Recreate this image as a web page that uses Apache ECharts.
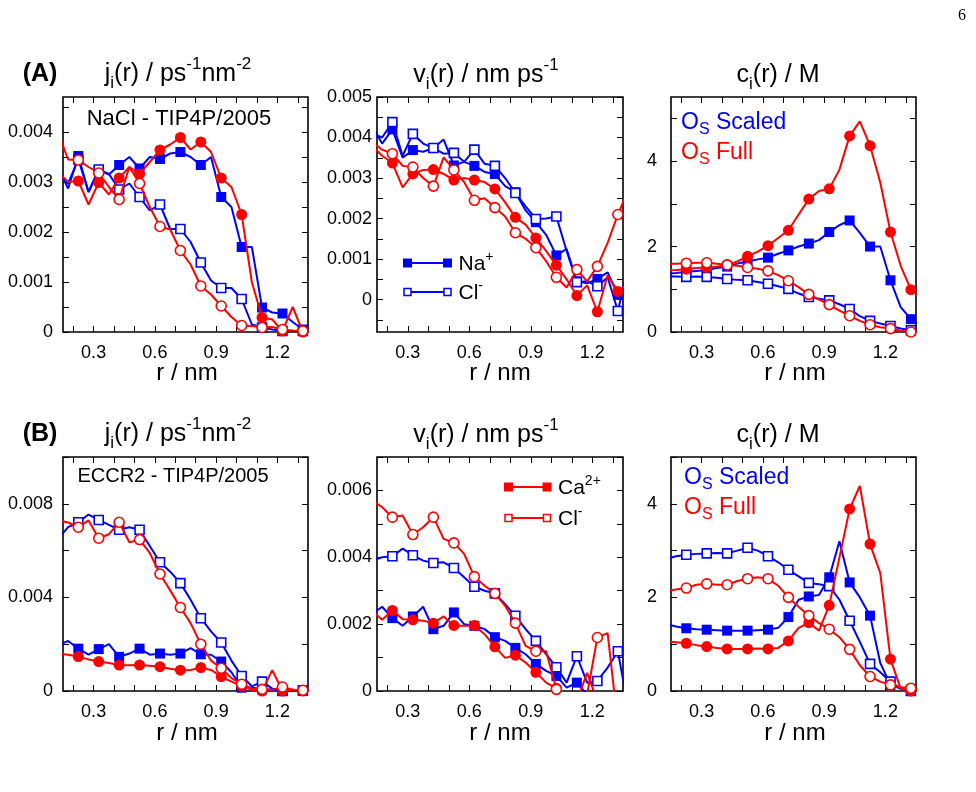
<!DOCTYPE html>
<html><head><meta charset="utf-8">
<script src="https://cdn.jsdelivr.net/npm/echarts@6/dist/echarts.min.js"></script>
<style>html,body{margin:0;padding:0;background:#fff}#c{width:976px;height:792px}</style>
</head><body><div id="c"></div>
<script>
// ---- data: r grid (nm); markers every other point starting at 0.225 ----
const r = [0.125,0.175,0.225,0.275,0.325,0.375,0.425,0.475,0.525,0.575,0.625,0.675,0.725,0.775,0.825,0.875,0.925,0.975,1.025,1.075,1.125,1.175,1.225,1.275,1.325,1.375];
const xTicks = [0.2,0.3,0.4,0.5,0.6,0.7,0.8,0.9,1.0,1.1,1.2,1.3];
const xLabels = [0.3,0.6,0.9,1.2];

// (A) NaCl  j_i(r), units 1e-3 ps^-1 nm^-2
const jA_NaScaled = [3.3,2.87,3.52,2.8,3.24,3.15,3.34,3.5,3.27,3.5,3.46,3.57,3.60,3.5,3.34,3.5,2.70,2.5,1.70,1.7,0.49,0.39,0.37,0.2,0.05,0.0];
const jA_ClScaled = [3.2,2.97,3.45,2.8,3.25,3.16,2.85,2.97,2.70,2.43,2.55,2.06,2.06,1.8,1.39,1.03,0.88,0.88,0.66,0.15,0.09,0.05,0.02,0.02,0.02,0.0];
const jA_NaFull   = [3.2,3.0,3.02,2.55,2.99,2.75,3.08,3.3,3.16,3.4,3.64,3.75,3.89,3.65,3.80,3.6,3.08,2.9,2.35,1.0,0.29,0.25,0.02,0.5,0.0,0.0];
const jA_ClFull   = [4.0,3.45,3.44,3.3,3.18,2.9,2.65,3.3,2.97,2.5,2.11,2.05,1.63,1.35,0.92,0.75,0.52,0.3,0.13,0.12,0.09,0.1,0.05,0.03,0.02,0.0];
// (A) v_i(r), units 1e-3 nm/ps
const vA_NaScaled = [4.3,3.85,4.2,3.5,3.69,3.65,3.74,3.95,3.31,3.4,3.3,3.15,3.1,2.8,2.65,2.2,1.91,1.6,1.09,1.25,0.45,0.4,0.51,0.67,0.12,0.5];
const vA_ClScaled = [4.1,4.0,4.38,3.55,4.09,3.85,3.74,3.6,3.62,3.4,3.7,3.35,3.3,3.0,2.63,2.3,1.99,2.0,2.05,1.2,0.43,0.45,0.33,0.55,-0.28,0.8];
const vA_NaFull   = [3.8,3.55,3.37,2.77,3.1,3.2,3.21,3.1,2.95,3.0,2.95,2.9,2.73,2.4,2.03,1.85,1.52,1.2,0.85,0.5,0.1,0.35,-0.3,0.6,0.2,0.4];
const vA_ClFull   = [3.9,3.7,3.6,3.3,3.27,3.0,2.8,3.51,3.2,2.9,2.45,2.5,2.27,2.05,1.65,1.5,1.28,0.95,0.55,0.3,0.74,0.45,0.82,1.4,2.1,2.7];
// (A) c_i(r), M
const cA_NaScaled = [1.36,1.38,1.41,1.43,1.45,1.5,1.53,1.6,1.65,1.7,1.74,1.83,1.91,2.0,2.07,2.15,2.34,2.5,2.61,2.32,2.0,2.0,1.21,0.58,0.3,0.15];
const cA_ClScaled = [1.3,1.3,1.29,1.3,1.29,1.27,1.24,1.22,1.21,1.17,1.13,1.07,1.01,0.9,0.82,0.78,0.74,0.65,0.54,0.37,0.26,0.2,0.14,0.08,0.04,0.02];
const cA_NaFull   = [1.44,1.45,1.47,1.5,1.51,1.53,1.57,1.65,1.77,1.88,2.02,2.2,2.38,2.75,3.11,3.3,3.35,3.8,4.59,4.93,4.36,3.5,2.34,1.55,0.99,0.8];
const cA_ClFull   = [1.6,1.6,1.61,1.62,1.62,1.6,1.57,1.55,1.51,1.48,1.43,1.33,1.2,1.05,0.88,0.76,0.64,0.5,0.38,0.26,0.17,0.11,0.08,0.03,0.0,0.0];

// (B) ECCR2  j_i(r), units 1e-3
const jB_CaScaled = [1.95,2.14,1.81,1.55,1.79,2.0,1.46,1.6,1.81,1.55,1.6,1.55,1.6,1.83,1.57,1.55,1.26,0.8,0.14,0.15,0.07,0.05,0.0,0.0,0.0,0.0];
const jB_ClScaled = [6.5,7.0,7.21,7.54,7.31,7.1,6.89,7.0,6.89,6.2,5.5,5.1,4.61,3.9,3.11,2.55,2.07,1.3,0.64,0.2,0.4,0.1,0.0,0.05,0.03,0.0];
const jB_CaFull   = [1.6,1.55,1.47,1.35,1.26,1.2,1.11,1.1,1.11,1.08,1.04,0.95,0.89,0.9,1.0,0.9,0.61,0.4,0.21,0.05,0.0,0.89,0.0,0.05,0.0,0.0];
const jB_ClFull   = [7.3,7.2,7.0,7.29,6.53,6.7,7.21,6.36,6.47,5.9,5.0,4.3,3.57,2.9,2.0,1.3,0.97,0.55,0.29,0.1,0.07,0.05,0.17,0.05,0.03,0.0];
// (B) v_i(r), units 1e-3
const vB_CaScaled = [2.3,2.52,2.18,1.95,2.23,2.52,1.85,1.95,2.35,2.0,1.95,1.85,1.61,1.5,1.29,1.1,0.81,0.6,0.45,0.1,0.25,-0.1,-0.3,-0.2,-0.5,-0.3];
const vB_ClScaled = [3.9,4.0,4.03,4.26,4.06,3.9,3.83,3.85,3.68,3.4,3.12,3.0,2.92,2.6,2.25,1.85,1.5,1.1,0.71,0.25,1.04,0.25,0.3,0.7,1.19,-0.5];
const vB_CaFull   = [2.4,2.13,2.41,2.15,2.13,2.1,2.03,2.23,1.96,1.95,1.96,1.7,1.32,0.99,1.07,0.85,0.56,0.25,0.08,-0.1,-0.3,0.54,-0.3,-0.5,-0.5,-0.5];
const vB_ClFull   = [5.7,5.5,5.2,5.25,4.68,4.9,5.2,4.55,4.43,4.1,3.42,3.15,2.92,2.55,2.03,1.35,1.19,1.19,0.05,-0.1,-0.3,-0.1,1.6,1.73,-1.0,-1.0];
// (B) c_i(r), M
const cB_CaScaled = [1.43,1.38,1.34,1.32,1.31,1.3,1.29,1.29,1.29,1.3,1.31,1.35,1.58,1.95,2.02,2.05,2.43,3.2,2.32,2.0,1.61,0.6,0.13,0.05,0.0,0.0];
const cB_ClScaled = [2.82,2.88,2.91,2.93,2.94,2.95,2.94,3.0,3.06,3.0,2.88,2.75,2.59,2.45,2.31,2.28,2.24,1.95,1.5,1.05,0.58,0.4,0.2,0.05,0.0,0.0];
const cB_CaFull   = [1.06,1.04,1.02,0.98,0.95,0.92,0.9,0.9,0.9,0.91,0.9,0.92,1.07,1.35,1.46,1.29,1.83,2.85,3.89,4.38,3.14,2.52,0.68,0.05,0.0,0.0];
const cB_ClFull   = [2.14,2.17,2.2,2.27,2.29,2.27,2.27,2.35,2.4,2.43,2.4,2.25,2.0,1.8,1.61,1.45,1.32,1.15,0.89,0.55,0.31,0.2,0.13,0.08,0.06,0.03];

// y-axis ticks / labels
const yTicks_jA = [0,0.0005,0.001,0.0015,0.002,0.0025,0.003,0.0035,0.004,0.0045];
const yLabels_jA = [0,0.001,0.002,0.003,0.004];
const yTicks_vA = [-0.0005,0,0.0005,0.001,0.0015,0.002,0.0025,0.003,0.0035,0.004,0.0045,0.005];
const yLabels_vA = [0,0.001,0.002,0.003,0.004,0.005];
const yTicks_c = [0,1,2,3,4,5];
const yLabels_c = [0,2,4];
const yTicks_jB = [0,0.002,0.004,0.006,0.008,0.01];
const yLabels_jB = [0,0.004,0.008];
const yTicks_vB = [0,0.001,0.002,0.003,0.004,0.005,0.006,0.007];
const yLabels_vB = [0,0.002,0.004,0.006];

// ---- layout & styles ----
const FONT = '"Liberation Sans", Arial, Helvetica, sans-serif';
const BLUE = '#0000ff', RED = '#ff0000';
const cols = [{left:63,width:245,lm:10},{left:377,width:246,lm:5},{left:671,width:245,lm:14}];
const rows = [{top:97,height:235},{top:457,height:234}];
const fmt3 = v => (Math.abs(v) < 1e-12 ? '0' : v.toFixed(3));
const fmt0 = v => String(Math.round(v));

const panels = [
  {row:0,col:0,scale:1e-3,ymin:0,ymax:0.0047,yt:yTicks_jA,yl:yLabels_jA,f:fmt3,d:[jA_NaScaled,jA_ClScaled,jA_NaFull,jA_ClFull]},
  {row:0,col:1,scale:1e-3,ymin:-0.0008,ymax:0.005,yt:yTicks_vA,yl:yLabels_vA,f:fmt3,d:[vA_NaScaled,vA_ClScaled,vA_NaFull,vA_ClFull]},
  {row:0,col:2,scale:1,ymin:0,ymax:5.5,yt:yTicks_c,yl:yLabels_c,f:fmt0,d:[cA_NaScaled,cA_ClScaled,cA_NaFull,cA_ClFull]},
  {row:1,col:0,scale:1e-3,ymin:0,ymax:0.01,yt:yTicks_jB,yl:yLabels_jB,f:fmt3,d:[jB_CaScaled,jB_ClScaled,jB_CaFull,jB_ClFull]},
  {row:1,col:1,scale:1e-3,ymin:0,ymax:0.007,yt:yTicks_vB,yl:yLabels_vB,f:fmt3,d:[vB_CaScaled,vB_ClScaled,vB_CaFull,vB_ClFull]},
  {row:1,col:2,scale:1,ymin:0,ymax:5,yt:yTicks_c,yl:yLabels_c,f:fmt0,d:[cB_CaScaled,cB_ClScaled,cB_CaFull,cB_ClFull]}
];
const styles = [
  {color:BLUE, symbol:'rect', size:10, filled:true},
  {color:BLUE, symbol:'rect', size:9, filled:false},
  {color:RED, symbol:'circle', size:11, filled:true},
  {color:RED, symbol:'circle', size:10, filled:false}
];

const grid = [], xAxis = [], yAxis = [], series = [];
const tickStyle = {show:true, inside:true, length:6, lineStyle:{color:'#000', width:1}};
panels.forEach((p, g) => {
  const c = cols[p.col], rw = rows[p.row];
  grid.push({left:c.left, top:rw.top, width:c.width, height:rw.height, show:true,
    borderColor:'#000', borderWidth:1.6, backgroundColor:'transparent', containLabel:false});
  ['bottom','top'].forEach((pos, k) => xAxis.push({
    type:'value', gridIndex:g, position:pos, min:0.15, max:1.35,
    splitLine:{show:false}, axisLine:{show:false, onZero:false},
    axisTick:Object.assign({customValues:xTicks}, tickStyle),
    axisLabel:{show:k===0, customValues:xLabels, formatter:v=>v.toFixed(1), fontSize:18, fontFamily:FONT, color:'#000', margin:12}
  }));
  ['left','right'].forEach((pos, k) => yAxis.push({
    type:'value', gridIndex:g, position:pos, min:p.ymin, max:p.ymax,
    splitLine:{show:false}, axisLine:{show:false, onZero:false},
    axisTick:Object.assign({customValues:p.yt}, tickStyle),
    axisLabel:{show:k===0, customValues:p.yl, formatter:p.f, fontSize:18, fontFamily:FONT, color:'#000', margin:c.lm}
  }));
  p.d.forEach((vals, s) => {
    const st = styles[s];
    series.push({
      type:'line', xAxisIndex:2*g, yAxisIndex:2*g, clip:true, animation:false, silent:true,
      data: r.map((x, i) => [x, vals[i] * p.scale]),
      showAllSymbol:true, symbol:st.symbol,
      symbolSize:(v, prm) => (prm.dataIndex % 2 === 0 ? st.size : 0),
      lineStyle:{color:st.color, width:2},
      itemStyle:{color: st.filled ? st.color : '#ffffff', borderColor:st.color, borderWidth: st.filled ? 0 : 1.6},
      z: 2 + s
    });
  });
});

// ---- text (titles, axis names, annotations, legends) ----
const rich = (main, sub, sup) => ({
  n:{fontSize:main, fontFamily:FONT, fill:'#000', lineHeight:36, verticalAlign:'middle'},
  sub:{fontSize:sub, fontFamily:FONT, fill:'#000', lineHeight:17, verticalAlign:'bottom'},
  sup:{fontSize:sup, fontFamily:FONT, fill:'#000', lineHeight:17, verticalAlign:'top'}
});
const T = (x, y, text, opts) => ({type:'text', x:x, y:y, silent:true, z:10, style:Object.assign({
  text:text, align:'center', verticalAlign:'middle', fontFamily:FONT, fontSize:23, fill:'#000'}, opts || {})});
const graphic = [];
const titleY = [74, 434];
const nameY = [373, 733];
const colCenters = [187, 500, 795];
titleY.forEach((ty, ri) => {
  graphic.push(T(178, ty, '{n|j}{sub|i}{n|(r) / ps}{sup|-1}{n|nm}{sup|-2}', {rich:rich(25,17,17)}));
  graphic.push(T(486, ty + 1, '{n|v}{sub|i}{n|(r) / nm ps}{sup|-1}', {rich:rich(25,17,17)}));
  graphic.push(T(778, ty + 1, '{n|c}{sub|i}{n|(r) / M}', {rich:rich(25,17,17)}));
  colCenters.forEach(cx => graphic.push(T(cx, nameY[ri], 'r / nm', {fontSize:24})));
});
graphic.push(T(40, 74, '(A)', {fontSize:25, fontWeight:'bold'}));
graphic.push(T(40, 434, '(B)', {fontSize:25, fontWeight:'bold'}));
graphic.push(T(179, 119, 'NaCl - TIP4P/2005', {fontSize:22}));
graphic.push(T(173, 476, 'ECCR2 - TIP4P/2005', {fontSize:20}));
graphic.push(T(962, 16, '6', {fontSize:16, fontFamily:'"Liberation Serif", "DejaVu Serif", serif'}));

// O_S legends in c panels
const osRich = col => ({
  n:{fontSize:23, fontFamily:FONT, fill:col, lineHeight:30, verticalAlign:'middle'},
  sub:{fontSize:16, fontFamily:FONT, fill:col, lineHeight:13, verticalAlign:'bottom'}
});
[[681,123,681,153],[684,478,684,508]].forEach(a => {
  graphic.push(T(a[0], a[1], '{n|O}{sub|S}{n| Scaled}', {align:'left', rich:osRich(BLUE)}));
  graphic.push(T(a[2], a[3], '{n|O}{sub|S}{n| Full}', {align:'left', rich:osRich(RED)}));
});

// line+symbol legends in v panels
const legRich = {
  n:{fontSize:21, fontFamily:FONT, fill:'#000', lineHeight:28, verticalAlign:'middle'},
  sup:{fontSize:14, fontFamily:FONT, fill:'#000', lineHeight:13, verticalAlign:'top'}
};
function legendItem(x1, x2, y, color, filled, label) {
  graphic.push({type:'line', silent:true, z:10, shape:{x1:x1, y1:y, x2:x2, y2:y}, style:{stroke:color, lineWidth:1.8}});
  [x1, x2].forEach(x => graphic.push({type:'rect', silent:true, z:11,
    shape: filled ? {x:x-4.5, y:y-4.5, width:9, height:9} : {x:x-3.5, y:y-3.5, width:7, height:7},
    style:{fill: filled ? color : '#fff', stroke:color, lineWidth: filled ? 0 : 1.5}}));
  graphic.push(T(x2 + 11, y + 1, label, {align:'left', rich:legRich}));
}
legendItem(407.5, 447.5, 263, BLUE, true, '{n|Na}{sup|+}');
legendItem(407.5, 447.5, 292, BLUE, false, '{n|Cl}{sup|-}');
legendItem(508.5, 547, 487, RED, true, '{n|Ca}{sup|2+}');
legendItem(508.5, 547, 518, RED, false, '{n|Cl}{sup|-}');

const chart = echarts.init(document.getElementById('c'), null, {renderer:'canvas'});
chart.setOption({animation:false, backgroundColor:'#fff', grid, xAxis, yAxis, series, graphic});
</script>
</body></html>
